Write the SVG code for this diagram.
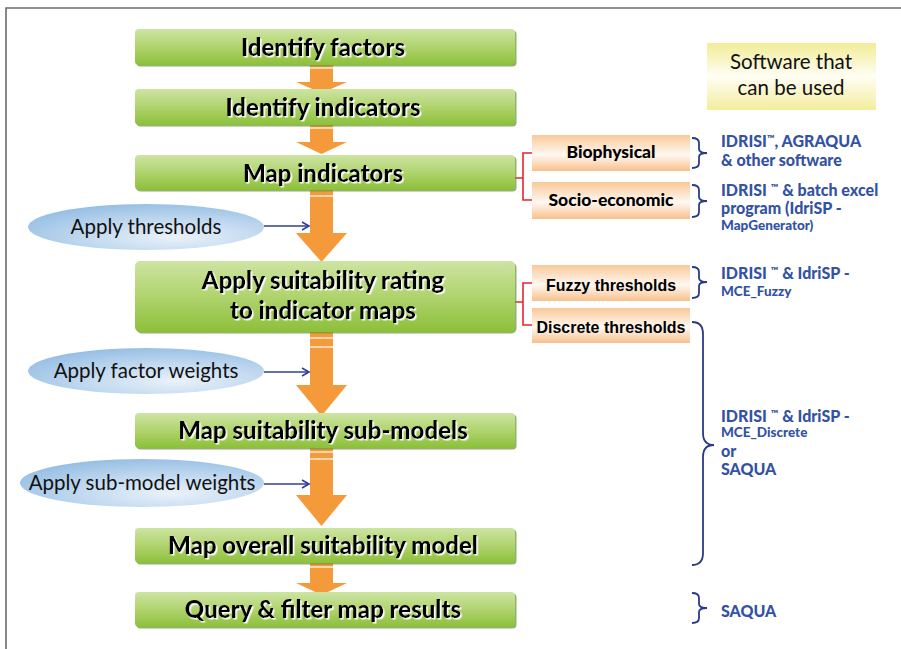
<svg xmlns="http://www.w3.org/2000/svg" width="901" height="649" viewBox="0 0 901 649">
<defs>
  <linearGradient id="gGreen" x1="0" y1="0" x2="0" y2="1">
    <stop offset="0" stop-color="#cde4a3"/>
    <stop offset="0.45" stop-color="#b3d573"/>
    <stop offset="1" stop-color="#8cc03a"/>
  </linearGradient>
  <linearGradient id="gOrange" x1="0" y1="0" x2="0" y2="1">
    <stop offset="0" stop-color="#f9c899"/>
    <stop offset="0.55" stop-color="#fff8f2"/>
    <stop offset="1" stop-color="#f8c08c"/>
  </linearGradient>
  <linearGradient id="gYellow" x1="0" y1="0" x2="0" y2="1">
    <stop offset="0" stop-color="#f2ec97"/>
    <stop offset="0.5" stop-color="#fffef4"/>
    <stop offset="1" stop-color="#f3ed9c"/>
  </linearGradient>
  <radialGradient id="gBlue" cx="0.62" cy="0.72" r="0.8">
    <stop offset="0" stop-color="#eaf2fa"/>
    <stop offset="0.45" stop-color="#c3daf0"/>
    <stop offset="1" stop-color="#90bbe2"/>
  </radialGradient>
  <filter id="wShadow" x="-5%" y="-20%" width="110%" height="140%">
    <feDropShadow dx="1.5" dy="1.5" stdDeviation="0.3" flood-color="#ffffff" flood-opacity="1"/>
  </filter>
  <marker id="openArrow" markerWidth="10" markerHeight="10" refX="8" refY="5" orient="auto" markerUnits="userSpaceOnUse">
    <path d="M1,1 L8,5 L1,9" fill="none" stroke="#2e3f96" stroke-width="1.6"/>
  </marker>
  <style>
    .green{fill:url(#gGreen)}
    .gshadow{fill:#6f9a3c;opacity:0.75}
    .gtext{font-family:Lato,"Liberation Sans",sans-serif;font-weight:900;font-size:24px;fill:#000;text-anchor:middle;filter:url(#wShadow)}
    .orange{fill:url(#gOrange)}
    .otext{font-family:Lato,"Liberation Sans",sans-serif;font-weight:900;font-size:17.5px;fill:#000;text-anchor:middle}
    .ntext{font-family:"Liberation Sans",Arial,sans-serif;font-weight:bold;font-size:17px;fill:#000;text-anchor:middle}
    .ell{fill:url(#gBlue)}
    .etext{font-family:Lato,"Liberation Sans",sans-serif;font-size:20.5px;fill:#111;text-anchor:middle}
    .btext{font-family:Lato,"Liberation Sans",sans-serif;font-weight:900;font-size:16px;fill:#3352a3}
    .bsmall{font-size:13.5px}
    .tm{font-size:10px}
    .shaft{fill:#f59a3a}
    .stripe{stroke:#ffffff;stroke-width:1.2}
    .red{fill:none;stroke:#e3262c;stroke-width:1.6}
    .brace{fill:none;stroke:#2b3a86;stroke-width:1.8}
    .blue{fill:none;stroke:#2e3f96;stroke-width:1.5}
  </style>
</defs>

<rect x="0" y="0" width="901" height="649" fill="#ffffff"/>
<path d="M6,649 L6,8 L901,8" fill="none" stroke="#6b6b6b" stroke-width="1.6"/>

<g id="connectors">
  <g id="arrow1">
    <rect class="shaft" x="310" y="63" width="23" height="20"/>
    <polygon class="shaft" points="296,82 347,82 321.5,93"/>
    <line class="stripe" x1="310" y1="68" x2="333" y2="68"/>
  </g>
  <g id="arrow2">
    <rect class="shaft" x="310" y="124" width="23" height="19"/>
    <polygon class="shaft" points="296,142 347,142 321.5,154"/>
    <line class="stripe" x1="310" y1="128" x2="333" y2="128"/>
  </g>
  <g id="arrow3">
    <rect class="shaft" x="310" y="190" width="23" height="44"/>
    <polygon class="shaft" points="296,233 347,233 321.5,262"/>
    <line class="stripe" x1="310" y1="196" x2="333" y2="196"/>
  </g>
  <g id="arrow4">
    <rect class="shaft" x="310" y="332" width="23" height="54"/>
    <polygon class="shaft" points="296,385 347,385 321.5,416"/>
    <line class="stripe" x1="310" y1="338" x2="333" y2="338"/>
    <line class="stripe" x1="310" y1="347" x2="333" y2="347"/>
  </g>
  <g id="arrow5">
    <rect class="shaft" x="310" y="447" width="23" height="49"/>
    <polygon class="shaft" points="296,495 347,495 321.5,526"/>
    <line class="stripe" x1="310" y1="452" x2="333" y2="452"/>
    <line class="stripe" x1="310" y1="459" x2="333" y2="459"/>
  </g>
  <g id="arrow6">
    <rect class="shaft" x="310" y="562" width="23" height="22"/>
    <polygon class="shaft" points="296,583 347,583 321.5,595"/>
    <line class="stripe" x1="310" y1="567" x2="333" y2="567"/>
  </g>
  <line class="blue" x1="264" y1="226" x2="309" y2="226" marker-end="url(#openArrow)"/>
  <line class="blue" x1="264" y1="372" x2="309" y2="372" marker-end="url(#openArrow)"/>
  <line class="blue" x1="264" y1="484" x2="309" y2="484" marker-end="url(#openArrow)"/>
  <path class="red" d="M515,178 L523,178 M532,153 L523,153 L523,200 L532,200"/>
  <path class="red" d="M515,302 L523,302 M532,283 L523,283 L523,325 L532,325"/>
  <path class="brace" d="M692,138 Q699,138 699,143 L699,149 Q699,153 707,153 Q699,153 699,157 L699,163 Q699,168 692,168"/>
  <path class="brace" d="M692,185 Q699,185 699,190 L699,197 Q699,201 707,201 Q699,201 699,205 L699,212 Q699,217 692,217"/>
  <path class="brace" d="M692,267 Q699,267 699,272 L699,278 Q699,282 707,282 Q699,282 699,286 L699,293 Q699,298 692,298"/>
  <path class="brace" d="M692,322 Q703,322 703,334 L703,433 Q703,445 714,445 Q703,445 703,457 L703,553 Q703,565 692,565"/>
  <path class="brace" d="M692,593 Q699,593 699,598 L699,604 Q699,608 707,608 Q699,608 699,612 L699,618 Q699,623 692,623"/>
</g>

<g id="n1">
  <rect class="gshadow" x="136.5" y="30.5" width="380" height="36" rx="4"/>
  <rect class="green" x="135" y="29" width="380" height="36" rx="4"/>
  <text class="gtext" x="323" y="56">Identify factors</text>
</g>
<g id="n2">
  <rect class="gshadow" x="136.5" y="90.5" width="380" height="36" rx="4"/>
  <rect class="green" x="135" y="89" width="380" height="36" rx="4"/>
  <text class="gtext" x="323" y="116">Identify indicators</text>
</g>
<g id="n3">
  <rect class="gshadow" x="136.5" y="156.5" width="380" height="35" rx="4"/>
  <rect class="green" x="135" y="155" width="380" height="35" rx="4"/>
  <text class="gtext" x="323" y="182">Map indicators</text>
</g>
<g id="n4">
  <rect class="gshadow" x="136.5" y="262.5" width="380" height="71" rx="5"/>
  <rect class="green" x="135" y="261" width="380" height="71" rx="5"/>
  <text class="gtext" x="323" y="289">Apply suitability rating</text>
  <text class="gtext" x="323" y="319">to indicator maps</text>
</g>
<g id="n5">
  <rect class="gshadow" x="136.5" y="414.5" width="380" height="35" rx="4"/>
  <rect class="green" x="135" y="413" width="380" height="35" rx="4"/>
  <text class="gtext" x="323" y="439">Map suitability sub-models</text>
</g>
<g id="n6">
  <rect class="gshadow" x="136.5" y="529.5" width="380" height="35" rx="4"/>
  <rect class="green" x="135" y="528" width="380" height="35" rx="4"/>
  <text class="gtext" x="323" y="554">Map overall suitability model</text>
</g>
<g id="n7">
  <rect class="gshadow" x="136.5" y="593.5" width="380" height="35" rx="4"/>
  <rect class="green" x="135" y="592" width="380" height="35" rx="4"/>
  <text class="gtext" x="323" y="618">Query &amp; filter map results</text>
</g>

<g id="e1">
  <ellipse class="ell" cx="146" cy="227" rx="118" ry="23"/>
  <text class="etext" x="146" y="234">Apply thresholds</text>
</g>
<g id="e2">
  <ellipse class="ell" cx="146" cy="371" rx="118" ry="23"/>
  <text class="etext" x="146" y="378">Apply factor weights</text>
</g>
<g id="e3">
  <ellipse class="ell" cx="142" cy="483" rx="122" ry="24"/>
  <text class="etext" x="142" y="490">Apply sub-model weights</text>
</g>

<g id="o1">
  <rect class="orange" x="532" y="135" width="158" height="36"/>
  <text class="otext" x="611" y="158">Biophysical</text>
</g>
<g id="o2">
  <rect class="orange" x="532" y="182" width="158" height="37"/>
  <text class="otext" x="611" y="206">Socio-economic</text>
</g>
<g id="o3">
  <rect class="orange" x="532" y="265" width="158" height="36"/>
  <text class="ntext" x="611" y="291" textLength="130" lengthAdjust="spacingAndGlyphs">Fuzzy thresholds</text>
</g>
<g id="o4">
  <rect class="orange" x="532" y="308" width="158" height="35"/>
  <text class="ntext" x="611" y="333" textLength="149" lengthAdjust="spacingAndGlyphs">Discrete thresholds</text>
</g>

<g id="software">
  <rect x="707" y="43" width="169" height="67" fill="url(#gYellow)"/>
  <text class="etext" x="791" y="69">Software that</text>
  <text class="etext" x="791" y="95">can be used</text>
</g>

<g id="s1">
  <text class="btext" x="721" y="147">IDRISI<tspan class="tm" dy="-5">™</tspan><tspan dy="5">, AGRAQUA</tspan></text>
  <text class="btext" x="721" y="166">&amp; other software</text>
</g>
<g id="s2">
  <text class="btext" x="721" y="196">IDRISI <tspan class="tm" dy="-5">™</tspan><tspan dy="5"> &amp; batch excel</tspan></text>
  <text class="btext" x="721" y="214">program (IdriSP -</text>
  <text class="btext bsmall" x="721" y="230">MapGenerator)</text>
</g>
<g id="s3">
  <text class="btext" x="721" y="279">IDRISI <tspan class="tm" dy="-5">™</tspan><tspan dy="5"> &amp; IdriSP  -</tspan></text>
  <text class="btext bsmall" x="721" y="296">MCE_Fuzzy</text>
</g>
<g id="s4">
  <text class="btext" x="721" y="422">IDRISI <tspan class="tm" dy="-5">™</tspan><tspan dy="5"> &amp; IdriSP  -</tspan></text>
  <text class="btext bsmall" x="721" y="437">MCE_Discrete</text>
  <text class="btext" x="721" y="457">or</text>
  <text class="btext" x="721" y="475">SAQUA</text>
</g>
<g id="s5">
  <text class="btext" x="721" y="617">SAQUA</text>
</g>
</svg>
